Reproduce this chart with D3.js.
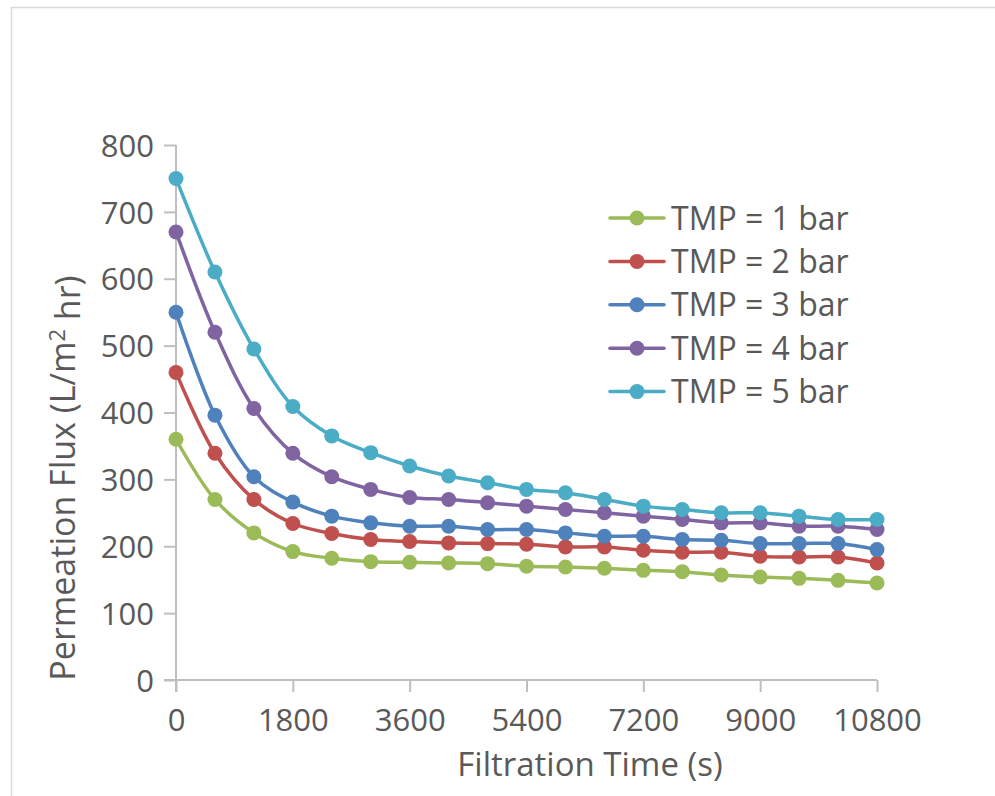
<!DOCTYPE html>
<html>
<head>
<meta charset="utf-8">
<script src="https://cdn.jsdelivr.net/npm/d3@7"></script>
<style>
  html, body { margin: 0; padding: 0; background: #fff; }
  svg { display: block; }
  text { font-family: "Open Sans", "Noto Sans", sans-serif; fill: #595959; }
</style>
</head>
<body>
<svg id="chart" width="995" height="796"></svg>
<script>
// Filtration time (s)
const times = [0, 600, 1200, 1800, 2400, 3000, 3600, 4200, 4800, 5400, 6000, 6600, 7200, 7800, 8400, 9000, 9600, 10200, 10800];

// Permeation flux (L/m² hr) for each transmembrane pressure
const tmp1 = [360, 270, 220, 192, 182, 177, 176, 175, 174, 170, 169, 167, 164, 162, 157, 154, 152, 149, 145];
const tmp2 = [460, 339, 270, 234, 219, 210, 207, 205, 204, 203, 199, 199, 194, 191, 191, 185, 184, 184, 175];
const tmp3 = [550, 396, 304, 266, 245, 235, 230, 230, 225, 225, 220, 215, 215, 210, 209, 204, 204, 204, 195];
const tmp4 = [670, 520, 406, 339, 304, 285, 273, 270, 265, 260, 255, 250, 245, 240, 235, 235, 230, 230, 225];
const tmp5 = [750, 610, 495, 409, 365, 340, 320, 305, 295, 285, 280, 270, 260, 255, 250, 250, 245, 240, 240];

const seriesNames = ["TMP = 1 bar", "TMP = 2 bar", "TMP = 3 bar", "TMP = 4 bar", "TMP = 5 bar"];
const seriesColors = ["#9BBB59", "#C0504D", "#4F81BD", "#8064A2", "#4BACC6"];

const xTicks = [0, 1800, 3600, 5400, 7200, 9000, 10800];
const yTicks = [0, 100, 200, 300, 400, 500, 600, 700, 800];

const series = [tmp1, tmp2, tmp3, tmp4, tmp5].map((vals, i) => ({
  name: seriesNames[i],
  color: seriesColors[i],
  points: vals.map((v, j) => ({ t: times[j], v }))
}));

const svg = d3.select("#chart");

// chart area frame
svg.append("path")
  .attr("d", "M11.5,800 L11.5,7.5 L1000,7.5")
  .attr("fill", "none")
  .attr("stroke", "#d9d9d9")
  .attr("stroke-width", 1.5);

const plot = { left: 176, right: 877, top: 145, bottom: 680 };

const x = d3.scaleLinear().domain([0, 10800]).range([plot.left, plot.right]);
const y = d3.scaleLinear().domain([0, 800]).range([plot.bottom, plot.top]);

const axisColor = "#bfbfbf";

// x axis
const xAxis = svg.append("g")
  .attr("transform", `translate(0,${plot.bottom})`)
  .call(d3.axisBottom(x).tickValues(xTicks).tickSize(12).tickPadding(17).tickFormat(d3.format("d")));
xAxis.select(".domain").attr("stroke", axisColor).attr("stroke-width", 2)
  .attr("d", `M${plot.left - 12},0H${plot.right}`);
xAxis.selectAll(".tick line").attr("stroke", axisColor).attr("stroke-width", 2);
xAxis.selectAll(".tick text")
  .attr("fill", "#595959")
  .style("font-size", "31px")
  .style("font-family", "'Open Sans', sans-serif");

// y axis
const yAxis = svg.append("g")
  .attr("transform", `translate(${plot.left},0)`)
  .call(d3.axisLeft(y).tickValues(yTicks).tickSize(12).tickPadding(10));
yAxis.select(".domain").attr("stroke", axisColor).attr("stroke-width", 2)
  .attr("d", `M0,${plot.top}V${plot.bottom + 12}`);
yAxis.selectAll(".tick line").attr("stroke", axisColor).attr("stroke-width", 2);
yAxis.selectAll(".tick text")
  .attr("fill", "#595959")
  .attr("dy", "0.36em")
  .style("font-size", "31px")
  .style("font-family", "'Open Sans', sans-serif");

// series lines and markers
const line = d3.line()
  .x(d => x(d.t))
  .y(d => y(d.v))
  .curve(d3.curveCatmullRom.alpha(0.5));

series.forEach(s => {
  const g = svg.append("g");
  g.append("path")
    .datum(s.points)
    .attr("d", line)
    .attr("fill", "none")
    .attr("stroke", s.color)
    .attr("stroke-width", 3.5)
    .attr("stroke-linejoin", "round");
  g.selectAll("circle")
    .data(s.points)
    .join("circle")
    .attr("cx", d => x(d.t))
    .attr("cy", d => y(d.v))
    .attr("r", 7.5)
    .attr("fill", s.color);
});

// legend
const legend = svg.append("g").attr("transform", "translate(610,218)");
series.forEach((s, i) => {
  const row = legend.append("g").attr("transform", `translate(0,${i * 43.4})`);
  row.append("line")
    .attr("x1", 0).attr("x2", 54)
    .attr("y1", 0).attr("y2", 0)
    .attr("stroke", s.color)
    .attr("stroke-width", 3.5)
    .attr("stroke-linecap", "round");
  row.append("circle").attr("cx", 27).attr("cy", 0).attr("r", 7.5).attr("fill", s.color);
  row.append("text")
    .attr("x", 61)
    .attr("y", 0)
    .attr("dy", "0.36em")
    .style("font-size", "32px")
    .text(s.name);
});

// axis titles
svg.append("text")
  .attr("x", 590)
  .attr("y", 776)
  .attr("text-anchor", "middle")
  .style("font-size", "33px")
  .text("Filtration Time (s)");

const yTitle = svg.append("text")
  .attr("transform", "translate(75,478) rotate(-90)")
  .attr("text-anchor", "middle")
  .style("font-size", "34px");
yTitle.append("tspan").text("Permeation Flux (L/m");
yTitle.append("tspan").attr("dy", "-0.45em").style("font-size", "22px").text("2");
yTitle.append("tspan").attr("dy", "0.45em").text(" hr)");
</script>
</body>
</html>
